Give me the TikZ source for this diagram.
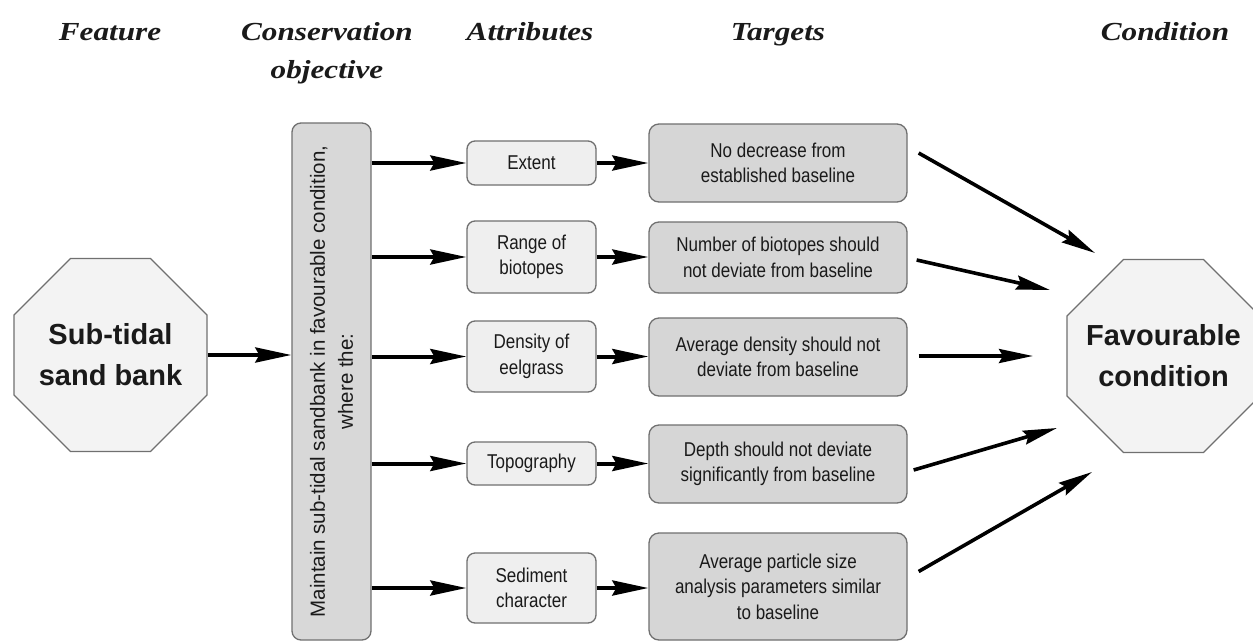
\documentclass[tikz,border=0pt]{standalone}
\usepackage{fontspec}
\setmainfont{Liberation Sans}
\newfontfamily\hdrfont[FakeStretch=1.2]{Liberation Serif}
\newfontfamily\boxfont[FakeStretch=0.85]{Liberation Sans}
\usetikzlibrary{shapes.geometric, arrows.meta}
\definecolor{edge}{HTML}{707070}
\definecolor{octfill}{HTML}{F3F3F3}
\definecolor{attrfill}{HTML}{EFEFEF}
\definecolor{tgtfill}{HTML}{D6D6D6}
\definecolor{objfill}{HTML}{D8D8D8}
\definecolor{ink}{HTML}{1A1A1A}
\begin{document}
\begin{tikzpicture}[x=1pt,y=-1pt,
  hdr/.style={font=\hdrfont\bfseries\itshape\fontsize{26}{38}\selectfont, text=ink, inner sep=0pt, align=center},
  octbox/.style={regular polygon, regular polygon sides=8, minimum size=209pt, inner sep=-16pt, draw=edge, line width=1.3pt, fill=octfill, font=\bfseries\fontsize{29}{41}\selectfont, align=center, text=ink},
  objbox/.style={draw=edge, line width=1.3pt, fill=objfill, rounded corners=9pt, minimum width=79pt, minimum height=517pt, inner sep=0pt},
  objtxt/.style={font=\fontsize{20.5}{28}\selectfont, text=ink, align=center, inner sep=0pt},
  attrbox/.style={draw=edge, line width=1.3pt, fill=attrfill, rounded corners=8pt, minimum width=129pt, inner sep=0pt, font=\boxfont\fontsize{20}{25.5}\selectfont, align=center, text=ink},
  tgtbox/.style={draw=edge, line width=1.3pt, fill=tgtfill, rounded corners=10pt, minimum width=258pt, inner sep=0pt, font=\boxfont\fontsize{20}{25.5}\selectfont, align=center, text=ink},
  arr/.style={line width=4pt, draw=black, -{Stealth[length=36pt,width=15pt,inset=4pt]}},
  arrd/.style={line width=3.6pt, draw=black, -{Stealth[length=34pt,width=14pt,inset=4pt]}},
]
\useasboundingbox (0,0) rectangle (1253,643);
\fill[white] (0,0) rectangle (1253,643);
% headers
\node[hdr, anchor=base] (hfeat) at (110,40) {Feature};
\node[hdr] (hobj) at (327,53) {Conservation\\objective};
\node[hdr, anchor=base] (hattr) at (530,40) {Attributes};
\node[hdr, anchor=base] (htgt) at (778,40) {Targets};
\node[hdr, anchor=base] (hcond) at (1165,40) {Condition};
% feature
\node[octbox] (feat) at (110.5,355) {Sub-tidal\\sand bank};
% objective
\node[objbox] (obj) at (331.5,381.5) {};
\node[objtxt, rotate=90] (objtext) at (obj.center) {Maintain sub-tidal sandbank in favourable condition,\\where the:};
% attributes
\node[attrbox, minimum height=44pt] (ext) at (531.5,163) {Extent};
\node[attrbox, minimum height=72pt] (rng) at (531.5,257) {Range of\\biotopes};
\node[attrbox, minimum height=71pt] (den) at (531.5,356.5) {Density of\\eelgrass};
\node[attrbox, minimum height=43pt] (topo) at (531.5,463.5) {Topography};
\node[attrbox, minimum height=70pt] (sed) at (531.5,588) {Sediment\\character};
% targets
\node[tgtbox, minimum height=78pt] (t1) at (778,163) {No decrease from\\established baseline};
\node[tgtbox, minimum height=71pt] (t2) at (778,257.5) {Number of biotopes should\\not deviate from baseline};
\node[tgtbox, minimum height=78pt] (t3) at (778,357) {Average density should not\\deviate from baseline};
\node[tgtbox, minimum height=78pt] (t4) at (778,464) {Depth should not deviate\\significantly from baseline};
\node[tgtbox, minimum height=107pt] (t5) at (778,586.5) {Average particle size\\analysis parameters similar\\to baseline};
% condition
\node[octbox] (cond) at (1163.5,356) {Favourable\\condition};
% arrow end points
\coordinate (e1) at (1095,253);
\coordinate (e2) at (1050,290);
\coordinate (e3) at (1033,356);
\coordinate (e4) at (1057,428);
\coordinate (e5) at (1092,472);
% arrows
\draw[arr] (feat.east) -- (obj.west |- feat.east);
\foreach \n in {ext,rng,den,topo,sed} \draw[arr] (obj.east |- \n.west) -- (\n.west);
\draw[arr] (ext.east) -- (ext.east -| t1.west);
\draw[arr] (rng.east) -- (rng.east -| t2.west);
\draw[arr] (den.east) -- (den.east -| t3.west);
\draw[arr] (topo.east) -- (topo.east -| t4.west);
\draw[arr] (sed.east) -- (sed.east -| t5.west);
\draw[arrd] ([shift={(11,-10)}]t1.east) -- (e1);
\draw[arrd] ([shift={(9,2.5)}]t2.east) -- (e2);
\draw[arrd] ([shift={(11,-1)}]t3.east) -- (e3);
\draw[arrd] ([shift={(6,6)}]t4.east) -- (e4);
\draw[arrd] ([shift={(11,-15)}]t5.east) -- (e5);
\end{tikzpicture}
\end{document}
